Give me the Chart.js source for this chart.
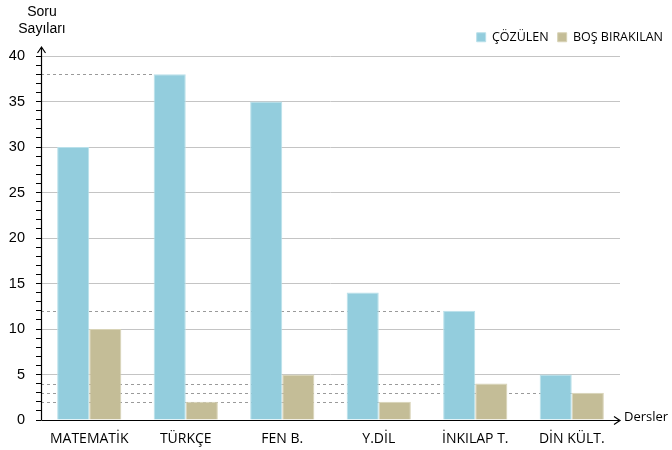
<!DOCTYPE html>
<html>
<head>
<meta charset="utf-8">
<script src="https://cdn.jsdelivr.net/npm/chart.js@4/dist/chart.umd.min.js"></script>
<style>
  html, body { margin: 0; padding: 0; background: #fff; }
  #wrap { width: 672px; height: 450px; }
</style>
</head>
<body>
<div id="wrap"><canvas id="dersChart"></canvas></div>
<script>
const dersler = ["MATEMATİK", "TÜRKÇE", "FEN B.", "Y.DİL", "İNKILAP T.", "DİN KÜLT."];
const cozulen = [30, 38, 35, 14, 12, 5];
const bosBirakilan = [10, 2, 5, 2, 4, 3];

// dashed helper lines: [dataset, category] of the bar they run to
const kilavuzlar = [[0, 1], [0, 4], [1, 4], [1, 5], [1, 3]];

const labelFont = "'Open Sans', 'DejaVu Sans', sans-serif";
const numFont = "'Liberation Sans', Arial, sans-serif";
const ustBosluk = 22;

// legend sits above the plot, so pin its height to keep the plot top fixed
const legendHeight = {
    id: "legendHeight",
    beforeLayout(chart) {
        const lg = chart.legend;
        if (lg && !lg._pinned) {
            const fit = lg.fit;
            lg.fit = function () {
                fit.call(this);
                this.height = 56 - ustBosluk;
            };
            lg._pinned = true;
        }
    }
};

const kilavuzCizgileri = {
    id: "kilavuzCizgileri",
    beforeDatasetsDraw(chart) {
        const ctx = chart.ctx;
        const y = chart.scales.y;
        const left = chart.chartArea.left;
        ctx.save();
        ctx.strokeStyle = "#9a9a9a";
        ctx.lineWidth = 1;
        ctx.setLineDash([3, 3]);
        kilavuzlar.forEach(([ds, i]) => {
            const bar = chart.getDatasetMeta(ds).data[i];
            const value = chart.data.datasets[ds].data[i];
            const py = Math.round(y.getPixelForValue(value)) + 0.5;
            ctx.beginPath();
            ctx.moveTo(left, py);
            ctx.lineTo(bar.x - bar.width / 2, py);
            ctx.stroke();
        });
        ctx.restore();
    }
};

const eksenler = {
    id: "eksenler",
    afterDraw(chart) {
        const ctx = chart.ctx;
        const a = chart.chartArea;
        const x0 = Math.round(a.left) + 0.5;
        const y0 = Math.round(a.bottom) + 0.5;
        const yTop = a.top - 9;
        const xEnd = a.right;
        ctx.save();
        ctx.strokeStyle = "#000";
        ctx.lineWidth = 1.2;
        ctx.beginPath();
        ctx.moveTo(x0, y0);
        ctx.lineTo(x0, yTop);
        ctx.moveTo(x0 - 4, yTop + 6);
        ctx.lineTo(x0, yTop);
        ctx.lineTo(x0 + 4, yTop + 6);
        ctx.moveTo(x0, y0);
        ctx.lineTo(xEnd, y0);
        ctx.moveTo(xEnd - 6, y0 - 4);
        ctx.lineTo(xEnd, y0);
        ctx.lineTo(xEnd - 6, y0 + 4);
        ctx.stroke();

        ctx.fillStyle = "#000";
        ctx.font = "14px " + numFont;
        ctx.textAlign = "center";
        ctx.textBaseline = "middle";
        ctx.fillText("Soru", 42, 12);
        ctx.fillText("Sayıları", 42, 29);

        ctx.font = "13px " + labelFont;
        ctx.textAlign = "left";
        ctx.fillText("Dersler", xEnd + 4, y0 - 3);
        ctx.restore();
    }
};

new Chart(document.getElementById("dersChart"), {
    type: "bar",
    data: {
        labels: dersler,
        datasets: [
            {
                label: "ÇÖZÜLEN",
                data: cozulen,
                backgroundColor: "#93cddd",
                borderColor: "#b9e0ea",
                borderWidth: 1
            },
            {
                label: "BOŞ BIRAKILAN",
                data: bosBirakilan,
                backgroundColor: "#c4bd97",
                borderColor: "#d8d3b6",
                borderWidth: 1
            }
        ]
    },
    options: {
        responsive: true,
        maintainAspectRatio: false,
        animation: false,
        devicePixelRatio: 1,
        layout: { padding: { top: ustBosluk, right: 0, bottom: 0, left: 0 } },
        datasets: {
            bar: { categoryPercentage: 0.665, barPercentage: 1 }
        },
        plugins: {
            tooltip: { enabled: false },
            legend: {
                position: "top",
                align: "end",
                labels: {
                    boxWidth: 9,
                    boxHeight: 9,
                    padding: 9,
                    color: "#000",
                    font: { family: labelFont, size: 12.5 }
                }
            }
        },
        scales: {
            x: {
                grid: { display: false, drawTicks: false },
                border: { display: false },
                ticks: {
                    color: "#000",
                    padding: 11,
                    font: { family: labelFont, size: 14 }
                },
                afterFit(s) { s.height = 30; }
            },
            y: {
                min: 0,
                max: 40,
                grid: {
                    color: c => (c.tick && c.tick.value % 5 === 0 && c.tick.value > 0) ? "#c4c4c4" : "rgba(0,0,0,0)",
                    tickColor: "#000",
                    tickLength: 5,
                    lineWidth: 1
                },
                border: { display: false },
                ticks: {
                    stepSize: 1,
                    autoSkip: false,
                    padding: 11,
                    color: "#000",
                    font: { family: numFont, size: 14.5 },
                    callback: v => (v % 5 === 0 ? v : "")
                },
                afterFit(s) { s.width = 41; }
            },
            sag: {
                position: "right",
                display: true,
                grid: { display: false },
                border: { display: false },
                ticks: { display: false },
                afterFit(s) { s.width = 52; }
            }
        }
    },
    plugins: [legendHeight, kilavuzCizgileri, eksenler]
});
</script>
</body>
</html>
